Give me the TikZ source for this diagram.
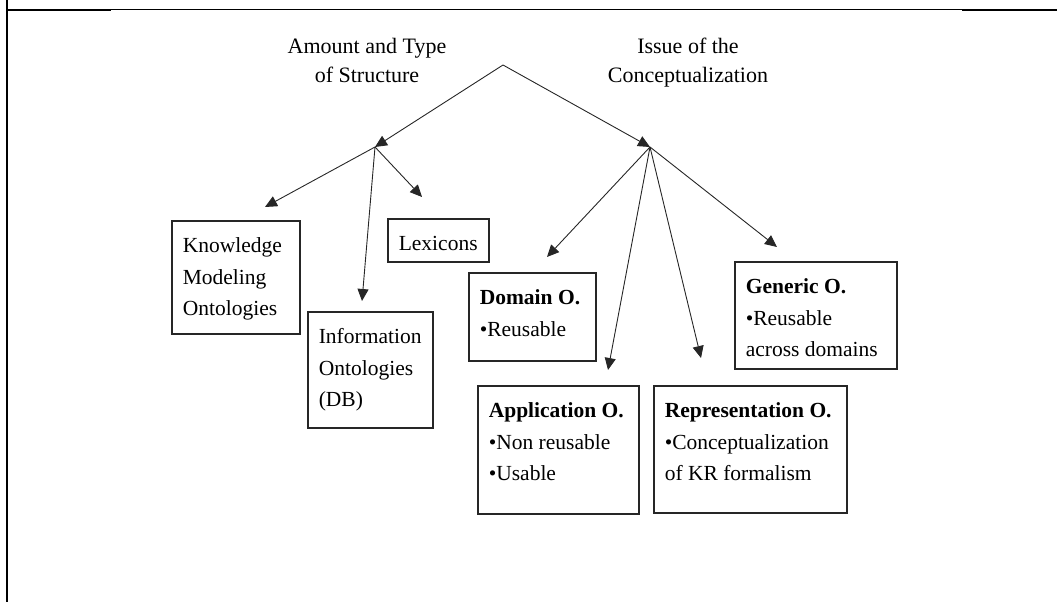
\documentclass[tikz,border=0pt]{standalone}
\usepackage{fontspec}
\setmainfont{Liberation Serif}
\usetikzlibrary{arrows.meta}

% text block of a box: fixed height, top aligned, first baseline 32pt below the top
\newcommand\boxlines[3]{\parbox[c][#2pt][t]{\dimexpr#1pt-22pt\relax}{\raggedright\rule{0pt}{32pt}#3}}

\begin{document}
\begin{tikzpicture}[x=1pt,y=-1pt,
  obox/.style={draw=black!85, line width=1.6pt, anchor=north west, inner xsep=11pt, inner ysep=0pt,
               font=\fontsize{21.5}{31.5}\selectfont},
  lbl/.style={anchor=base, inner sep=0pt, font=\fontsize{22}{29}\selectfont},
  arr/.style={draw=black!85, line width=0.9pt, -{Triangle[length=12pt,width=11pt]}}]

\useasboundingbox (0,0) rectangle (1057,602);

% frame lines
\draw[line width=2.4pt] (7,0) -- (7,602);
\draw[line width=2pt] (7,10) -- (111,10);
\draw[line width=1pt] (111,10) -- (962,10);
\draw[line width=2pt] (962,10) -- (1057,10);

% category labels
\node[lbl] (amount) at (367,53) {\begin{tabular}[t]{@{}c@{}}Amount and Type\\of Structure\end{tabular}};
\node[lbl] (issue) at (688,53) {\begin{tabular}[t]{@{}c@{}}Issue of the\\Conceptualization\end{tabular}};

% branching points
\coordinate (apex) at (503,65);
\coordinate (jl) at (375,147);
\coordinate (jr) at (650,147);

% arrow ends
\coordinate (tk) at (265,207);
\coordinate (ti) at (362,301);
\coordinate (tl) at (422,197);
\coordinate (td) at (547,257);
\coordinate (ta) at (608,370);
\coordinate (tr) at (701,358);
\coordinate (tg) at (777,247);

% boxes
\node[obox] (know) at (171,220) {\boxlines{128}{113}{Knowledge\\Modeling\\Ontologies}};
\node[obox] (info) at (307,311) {\boxlines{125}{116}{Information\\Ontologies\\(DB)}};
\node[obox] (lex) at (387,218) {\boxlines{101}{43}{Lexicons}};
\node[obox] (dom) at (468,272) {\boxlines{127}{88}{\textbf{Domain O.}\\•Reusable}};
\node[obox] (gen) at (734,261) {\boxlines{162}{107}{\textbf{Generic O.}\\•Reusable\\across domains}};
\node[obox] (app) at (477,385) {\boxlines{161}{128}{\textbf{Application O.}\\•Non reusable\\•Usable}};
\node[obox] (rep) at (653,385) {\boxlines{193}{127}{\textbf{Representation O.}\\•Conceptualization\\of KR formalism}};

% connectors
\draw[arr] (apex) -- (jl);
\draw[arr] (apex) -- (jr);
\draw[arr] (jl) -- (tk);
\draw[arr] (jl) -- (ti);
\draw[arr] (jl) -- (tl);
\draw[arr] (jr) -- (td);
\draw[arr] (jr) -- (ta);
\draw[arr] (jr) -- (tr);
\draw[arr] (jr) -- (tg);

\end{tikzpicture}
\end{document}
